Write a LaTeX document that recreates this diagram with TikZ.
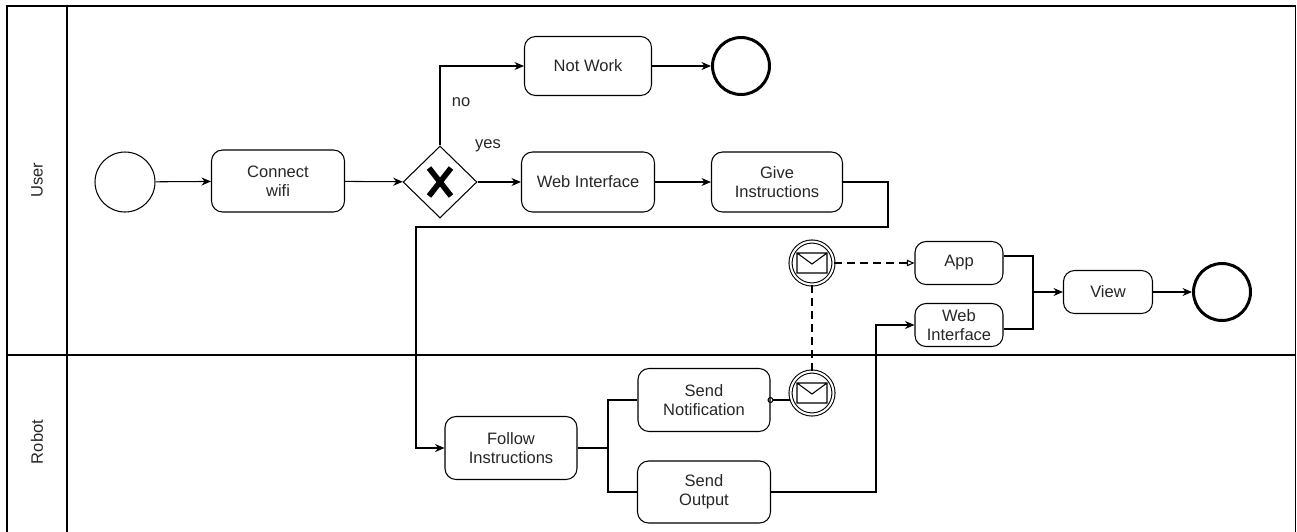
\documentclass[tikz,border=0pt]{standalone}
\usepackage{fontspec}
\setmainfont{Liberation Sans}
\usetikzlibrary{arrows.meta, shapes.geometric}

\tikzstyle{task}=[draw, rounded corners=0.22cm, align=center, text=black!85, inner sep=1pt, font=\fontsize{9.4pt}{10.8pt}\selectfont]
\tikzstyle{event}=[draw, circle, minimum size=1.2cm, inner sep=0pt]
\tikzstyle{endevent}=[event, minimum size=1.14cm, line width=1.7pt]
\tikzstyle{msgevent}=[draw, circle, inner sep=0pt, minimum size=0.86cm, double, double distance=0.04cm]
\tikzstyle{gateway}=[draw, diamond, inner sep=0pt, minimum width=1.48cm, minimum height=1.44cm]
\tikzstyle{lbl}=[text=black!85, font=\fontsize{9.4pt}{10.8pt}\selectfont]
\tikzstyle{flow}=[-{Stealth[length=0.19cm, width=0.16cm]}]
\tikzstyle{msgflow}=[dash pattern=on 0.16cm off 0.1cm]
\tikzstyle{msgarrow}=[msgflow, -{Triangle[open, length=0.15cm, width=0.13cm]}]
\tikzstyle{msgstart}=[{Circle[open, length=0.12cm]}-, shorten <=-0.06cm]

\begin{document}
\begin{tikzpicture}[x=0.02cm, y=-0.02cm, line width=0.6pt]
  \useasboundingbox (0,0) rectangle (1297,531);

  % pool and lanes
  \draw[line width=0.8pt] (7,6) rectangle (1295.5,545);
  \draw[line width=0.8pt] (67,6) -- (67,545);
  \draw[line width=0.8pt] (7,355) -- (1295.5,355);
  \node[lbl, rotate=90] (userlane) at (37,180) {User};
  \node[lbl, rotate=90] (robotlane) at (37,442) {Robot};

  % user lane
  \node[event] (start) at (125,182) {};
  \node[task, minimum width=2.66cm, minimum height=1.24cm] (wifi) at (278,181) {Connect\\wifi};
  \node[gateway] (gw) at (440,182) {};
  \draw[line width=3.2pt, shift={(gw.center)}] (-11,-14) -- (11,14) (-11,14) -- (11,-14);
  \node[task, minimum width=2.54cm, minimum height=1.18cm] (notwork) at (588,66) {Not Work};
  \node[endevent] (endtop) at (741,66) {};
  \node[task, minimum width=2.66cm, minimum height=1.2cm] (webui) at (588,182) {Web Interface};
  \node[task, minimum width=2.62cm, minimum height=1.2cm] (give) at (777,182) {Give\\Instructions};
  \node[lbl] (yes) at (488,146) {yes};
  \node[lbl] (no) at (461,102) {no};

  \node[msgevent] (msgA) at (812,263) {};
  \draw[shift={(msgA.center)}] (-15,-10) rectangle (15,10) (-15,-10) -- (0,1) -- (15,-10);
  \node[task, minimum width=1.76cm, minimum height=0.86cm] (app) at (959,263) {App};
  \node[task, minimum width=1.76cm, minimum height=0.86cm, inner sep=0pt] (webr) at (959,325) {Web\\Interface};
  \node[task, minimum width=1.78cm, minimum height=0.86cm] (view) at (1108,292) {View};
  \node[endevent] (endright) at (1222,292) {};

  % robot lane
  \node[task, minimum width=2.64cm, minimum height=1.26cm] (follow) at (511,448) {Follow\\Instructions};
  \node[task, minimum width=2.64cm, minimum height=1.26cm] (sendnot) at (704,400) {Send\\Notification};
  \node[task, minimum width=2.66cm, minimum height=1.24cm] (sendout) at (704,492) {Send\\Output};
  \node[msgevent] (msgB) at (812,393) {};
  \draw[shift={(msgB.center)}] (-15,-10) rectangle (15,10) (-15,-10) -- (0,1) -- (15,-10);

  \coordinate (bendA) at (888,227);
  \coordinate (bendB) at (416,227);
  \coordinate (split) at (608,448);
  \coordinate (turn) at (876,492);
  \coordinate (join) at (1033,292);

  % sequence flows
  \draw[flow] (start) -- (wifi);
  \draw[flow] (wifi) -- (gw);
  \draw[flow] (gw.north) |- (notwork.west);
  \draw[flow] (notwork) -- (endtop);
  \draw[flow] (gw.east) -- (webui.west);
  \draw[flow] (webui) -- (give);
  \draw[flow] (give.east) -| (bendA) -- (bendB) |- (follow.west);
  \draw (follow.east) -- (split);
  \draw (split) |- (sendnot.west);
  \draw (split) |- (sendout.west);
  \draw[flow] (sendout.east) -- (turn) |- (webr.west);
  \draw ([yshift=0.14cm]app.east) -| (join);
  \draw ([yshift=-0.08cm]webr.east) -| (join);
  \draw[flow] (join) -- (view);
  \draw[flow] (view) -- (endright);

  % message flows
  \draw[msgstart] (sendnot.east) -- (sendnot.east -| msgB.west);
  \draw[msgflow] (msgB) -- (msgA);
  \draw[msgarrow] (msgA) -- (app);
\end{tikzpicture}
\end{document}
